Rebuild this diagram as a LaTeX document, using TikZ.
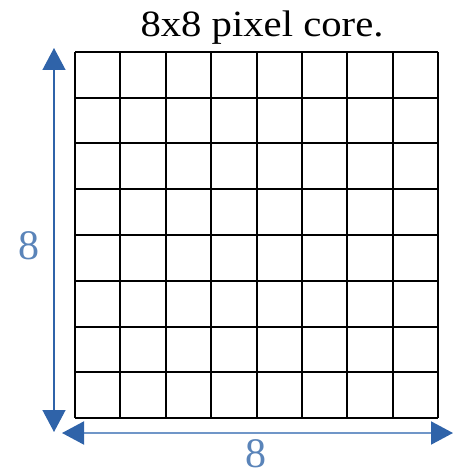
\documentclass[tikz,border=0pt]{standalone}
\usepackage{fontspec}
\setmainfont{Liberation Serif}
\usetikzlibrary{arrows.meta}
\definecolor{arrowdark}{HTML}{2F63A9}
\definecolor{linelight}{HTML}{7096C8}
\definecolor{labelblue}{HTML}{5A84B9}
\tikzset{
  gridline/.style={line width=2pt, black},
  dimarrow/.style={{Triangle[length=22pt,width=23pt,color=arrowdark]}-{Triangle[length=22pt,width=23pt,color=arrowdark]}},
  dimlabel/.style={font=\fontsize{42}{42}\selectfont, text=labelblue, inner sep=0pt, anchor=base}
}
\begin{document}
\begin{tikzpicture}[x=1pt,y=-1pt]
\useasboundingbox (0,0) rectangle (456,473);
% grid
\foreach \i in {0,...,8} {
  \draw[gridline] ({75+\i*45.375},52) -- ({75+\i*45.375},418);
  \draw[gridline] (75,{52+\i*45.75}) -- (438,{52+\i*45.75});
}
\node[font=\fontsize{37}{37}\selectfont, xscale=1.1, anchor=base, inner sep=0pt] (title) at (262,37) {8x8 pixel core.};
\coordinate (vt) at (54,48);
\coordinate (vb) at (54,432);
\coordinate (hl) at (62,433);
\coordinate (hr) at (453,433);
\draw[dimarrow, arrowdark, line width=1.4pt] (vt) -- (vb);
\draw[dimarrow, linelight, line width=2pt] (hl) -- (hr);
\node[dimlabel] (lv) at (29,259) {8};
\node[dimlabel] (lh) at (256,467) {8};
\end{tikzpicture}
\end{document}
